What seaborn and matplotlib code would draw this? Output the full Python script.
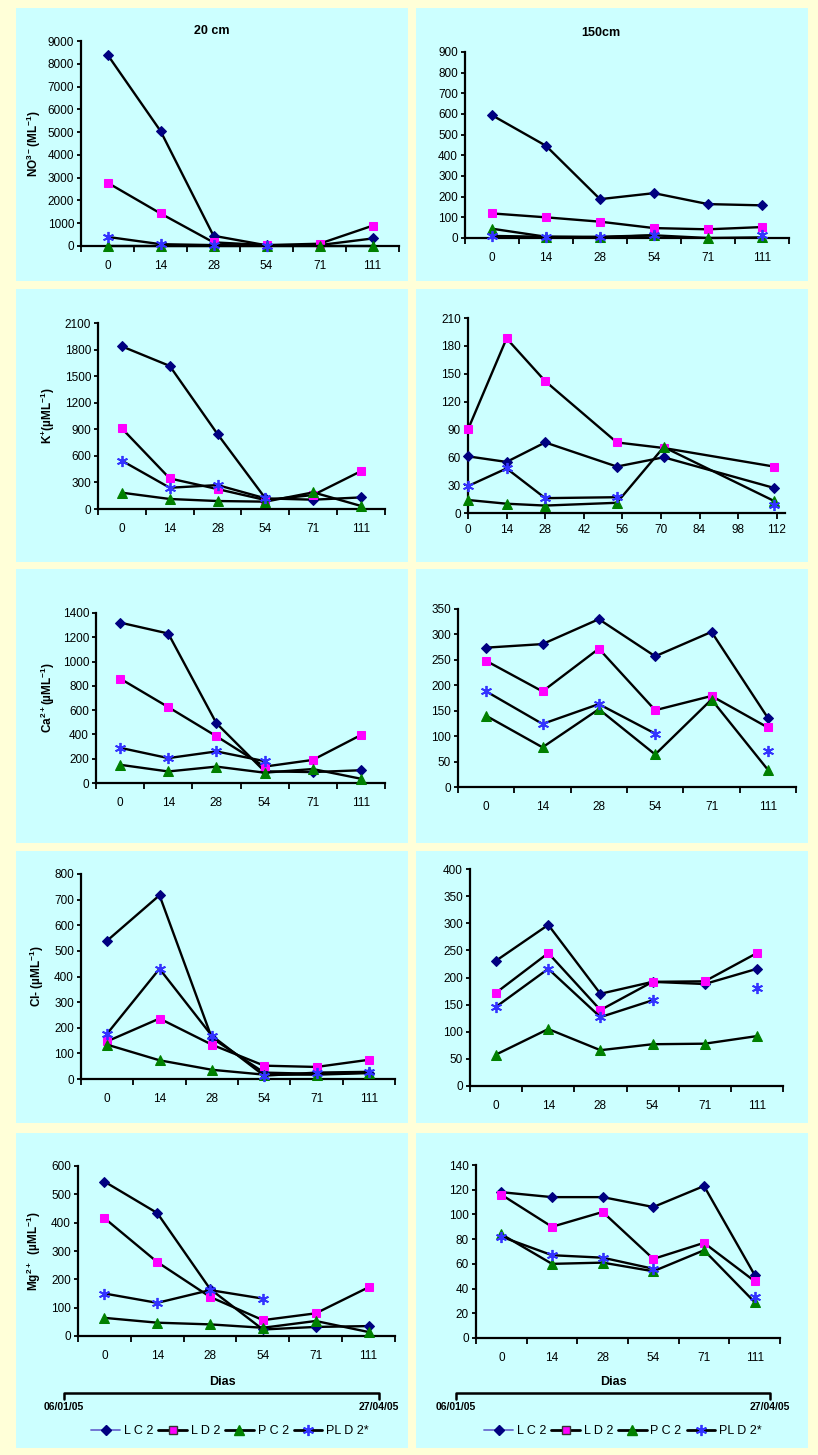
import numpy as np
import pandas as pd
import matplotlib
matplotlib.use('Agg')
import matplotlib.pyplot as plt
from matplotlib.patches import Rectangle
from matplotlib.lines import Line2D
import seaborn as sns

sns.set_theme(style='ticks')
plt.rcParams['font.family'] = ['Liberation Sans', 'DejaVu Sans']
plt.rcParams['mathtext.fontset'] = 'custom'
plt.rcParams['mathtext.rm'] = 'Liberation Sans:bold'
plt.rcParams['mathtext.default'] = 'rm'
for k in ['text.color', 'axes.labelcolor', 'xtick.color', 'ytick.color']:
    plt.rcParams[k] = 'black'

# sampling days
dias = [0, 14, 28, 54, 71, 111]
dia_labels = ['0', '14', '28', '54', '71', '111']
nan = np.nan

# NO3- (20 cm / 150 cm)
no3_20_lc2 = [8400, 5050, 450, 30, 40, 330]
no3_20_ld2 = [2780, 1430, 160, 40, 100, 890]
no3_20_pc2 = [10, 10, 10, 10, 10, 10]
no3_20_pld2 = [400, 80, 40, 20, nan, nan]
no3_150_lc2 = [594, 446, 188, 217, 164, 158]
no3_150_ld2 = [119, 100, 79, 48, 42, 53]
no3_150_pc2 = [45, 6, 6, 13, 0, 3]
no3_150_pld2 = [10, 6, 3, 13, nan, 13]

# K+
k_20_lc2 = [1836, 1615, 845, 120, 105, 131]
k_20_ld2 = [909, 345, 225, 101, 158, 428]
k_20_pc2 = [184, 113, 90, 83, 188, 34]
k_20_pld2 = [545, 240, 270, 120, nan, nan]
k_150_lc2 = [61, 55, 76, 50, 60, 27]
k_150_ld2 = [90, 188, 142, 76, 70, 50]
k_150_pc2 = [14, 10, 8, 11, 71, 13]
k_150_pld2 = [29, 48, 16, 17, nan, 9]

# Ca2+
ca_20_lc2 = [1321, 1231, 492, 96, 90, 105]
ca_20_ld2 = [860, 625, 385, 135, 190, 395]
ca_20_pc2 = [150, 95, 135, 85, 115, 35]
ca_20_pld2 = [290, 205, 260, 180, nan, nan]
ca_150_lc2 = [274, 281, 330, 257, 305, 136]
ca_150_ld2 = [248, 188, 272, 151, 179, 117]
ca_150_pc2 = [140, 78, 153, 64, 172, 34]
ca_150_pld2 = [188, 124, 163, 105, nan, 71]

# Cl-
cl_20_lc2 = [540, 717, 160, 25, 20, 25]
cl_20_ld2 = [147, 236, 134, 52, 47, 75]
cl_20_pc2 = [134, 73, 36, 17, 17, 23]
cl_20_pld2 = [177, 430, 169, 13, 25, 28]
cl_150_lc2 = [231, 297, 170, 192, 188, 216]
cl_150_ld2 = [172, 245, 140, 192, 193, 245]
cl_150_pc2 = [58, 105, 66, 77, 78, 92]
cl_150_pld2 = [146, 216, 127, 158, nan, 181]

# Mg2+
mg_20_lc2 = [545, 434, 166, 23, 32, 35]
mg_20_ld2 = [416, 261, 138, 56, 80, 172]
mg_20_pc2 = [64, 47, 41, 29, 53, 14]
mg_20_pld2 = [150, 117, 162, 132, nan, nan]
mg_150_lc2 = [118, 114, 114, 106, 123, 51]
mg_150_ld2 = [116, 90, 102, 64, 77, 46]
mg_150_pc2 = [84, 60, 61, 54, 71, 29]
mg_150_pld2 = [82, 67, 65, 56, nan, 33]

series_names = ['L C 2', 'L D 2', 'P C 2', 'PL D 2*']
styles = [
    dict(marker='D', markersize=5, markerfacecolor='#000080', markeredgecolor='#000080'),
    dict(marker='s', markersize=6, markerfacecolor='#FF00FF', markeredgecolor='#FF00FF'),
    dict(marker='^', markersize=7, markerfacecolor='#008000', markeredgecolor='#008000'),
    dict(marker=(6, 2, 0), markersize=8, markerfacecolor='#3333FF', markeredgecolor='#3333FF',
         markeredgewidth=1.3),
]
TICK_FS = 8.5

W, H = 818, 1455
fig = plt.figure(figsize=(W / 100, H / 100), dpi=100)
fig.patch.set_facecolor('#FFFFD8')

# cyan panels
for (x0, x1) in [(16, 408), (416, 808)]:
    for (y0, y1) in [(8, 281), (289, 562), (569, 843), (851, 1123), (1133, 1448)]:
        fig.patches.append(Rectangle((x0 / W, 1 - y1 / H), (x1 - x0) / W, (y1 - y0) / H,
                                     transform=fig.transFigure, facecolor='#CCFFFF',
                                     edgecolor='none', zorder=-5))


def make_ax(x0, ytop, x1, ybot):
    ax = fig.add_axes([x0 / W, 1 - ybot / H, (x1 - x0) / W, (ybot - ytop) / H])
    ax.set_facecolor('none')
    ax.patch.set_alpha(0)
    for s in ['top', 'right']:
        ax.spines[s].set_visible(False)
    for s in ['left', 'bottom']:
        ax.spines[s].set_linewidth(1.6)
        ax.spines[s].set_color('black')
    ax.tick_params(axis='y', direction='out', length=3, width=1.3, pad=2,
                   labelsize=TICK_FS, colors='black')
    return ax


def plot_series(ax, x, data):
    for vals, st in zip(data, styles):
        df = pd.DataFrame({'x': x, 'y': vals})
        ok = df['y'].notna()
        run_id = (~ok).cumsum()
        for _, run in df[ok].groupby(run_id[ok]):
            sns.lineplot(data=run, x='x', y='y', ax=ax, color='black', lw=1.7,
                         estimator=None, errorbar=None, sort=False, legend=False,
                         clip_on=False, zorder=3, **st)
    ax.set_xlabel('')
    ax.set_ylabel('')


def cat_axis(ax):
    ax.set_xlim(-0.5, 5.5)
    ax.set_xticks(np.arange(-0.5, 6.0, 1.0))
    ax.set_xticklabels([])
    ax.set_xticks(range(6), minor=True)
    ax.set_xticklabels(dia_labels, minor=True)
    ax.tick_params(axis='x', which='major', direction='out', length=4, width=1.3)
    ax.tick_params(axis='x', which='minor', length=0, pad=10, labelsize=TICK_FS)


def set_y(ax, top, step):
    ax.set_ylim(0, top)
    ax.set_yticks(np.arange(0, top + step / 2, step))


def ylab(ax, text, px, x0, x1):
    # px = right edge of the rotated label, in figure pixels
    ax.set_ylabel(text, fontsize=8.5, fontweight='bold')
    ax.yaxis.set_label_coords((px - x0) / (x1 - x0), 0.5)


cat_x = list(range(6))

# row 1 - NO3
ax = make_ax(81, 41, 399, 246)
plot_series(ax, cat_x, [no3_20_lc2, no3_20_ld2, no3_20_pc2, no3_20_pld2])
cat_axis(ax); set_y(ax, 9000, 1000)
ylab(ax, r'NO$^{3-}$(ML$^{-1}$)', 43, 81, 399)

ax = make_ax(465, 52, 789, 238)
plot_series(ax, cat_x, [no3_150_lc2, no3_150_ld2, no3_150_pc2, no3_150_pld2])
cat_axis(ax); set_y(ax, 900, 100)

fig.text(212 / W, 1 - 31 / H, '20 cm', ha='center', va='center', fontsize=9, fontweight='bold')
fig.text(601 / W, 1 - 33 / H, '150cm', ha='center', va='center', fontsize=9, fontweight='bold')

# row 2 - K
ax = make_ax(98, 323, 385, 509)
plot_series(ax, cat_x, [k_20_lc2, k_20_ld2, k_20_pc2, k_20_pld2])
cat_axis(ax); set_y(ax, 2100, 300)
ylab(ax, r'K$^{+}$(µML$^{-1}$)', 57, 98, 385)

ax = make_ax(468, 318, 785, 513)
plot_series(ax, dias, [k_150_lc2, k_150_ld2, k_150_pc2, k_150_pld2])
ax.set_xlim(0, 115)
ax.set_xticks(np.arange(0, 113, 14))
ax.tick_params(axis='x', direction='out', length=4, width=1.3, pad=4, labelsize=TICK_FS)
set_y(ax, 210, 30)

# row 3 - Ca
ax = make_ax(96, 613, 385, 783)
plot_series(ax, cat_x, [ca_20_lc2, ca_20_ld2, ca_20_pc2, ca_20_pld2])
cat_axis(ax); set_y(ax, 1400, 200)
ylab(ax, r'Ca$^{2+}$(µML$^{-1}$)', 57, 96, 385)

ax = make_ax(458, 609, 796, 787)
plot_series(ax, cat_x, [ca_150_lc2, ca_150_ld2, ca_150_pc2, ca_150_pld2])
cat_axis(ax); set_y(ax, 350, 50)

# row 4 - Cl
ax = make_ax(81, 874, 395, 1079)
plot_series(ax, cat_x, [cl_20_lc2, cl_20_ld2, cl_20_pc2, cl_20_pld2])
cat_axis(ax); set_y(ax, 800, 100)
ylab(ax, r'Cl- (µML$^{-1}$)', 46, 81, 395)

ax = make_ax(470, 869, 783, 1086)
plot_series(ax, cat_x, [cl_150_lc2, cl_150_ld2, cl_150_pc2, cl_150_pld2])
cat_axis(ax); set_y(ax, 400, 50)

# row 5 - Mg
ax = make_ax(78, 1166, 395, 1336)
plot_series(ax, cat_x, [mg_20_lc2, mg_20_ld2, mg_20_pc2, mg_20_pld2])
cat_axis(ax); set_y(ax, 600, 100)
ylab(ax, r'Mg$^{2+}$  (µML$^{-1}$)', 43, 78, 395)

ax = make_ax(476, 1165, 780, 1338)
plot_series(ax, cat_x, [mg_150_lc2, mg_150_ld2, mg_150_pc2, mg_150_pld2])
cat_axis(ax); set_y(ax, 140, 20)

# "Dias" with date bracket and legend under each bottom chart
legend_handles = [
    Line2D([], [], color='#6b6bd0', lw=1.3, **styles[0]),
    Line2D([], [], color='black', lw=2, **dict(styles[1], markeredgecolor='#333333')),
    Line2D([], [], color='black', lw=2, **styles[2]),
    Line2D([], [], color='black', lw=2, **styles[3]),
]
for dias_x, bx0, bx1, leg_x in [(222, 64, 379, 230), (613, 456, 770, 623)]:
    fig.text(dias_x / W, 1 - 1382 / H, 'Dias', ha='center', va='center',
             fontsize=9, fontweight='bold')
    fig.add_artist(Line2D([bx0 / W, bx0 / W, bx1 / W, bx1 / W],
                          [1 - 1399 / H, 1 - 1393 / H, 1 - 1393 / H, 1 - 1399 / H],
                          transform=fig.transFigure, color='black', lw=1.8))
    fig.text(bx0 / W, 1 - 1407 / H, '06/01/05', ha='center', va='center',
             fontsize=7.5, fontweight='bold')
    fig.text(bx1 / W, 1 - 1407 / H, '27/04/05', ha='center', va='center',
             fontsize=7.5, fontweight='bold')
    fig.legend(legend_handles, series_names, loc='center',
               bbox_to_anchor=(leg_x / W, 1 - 1431 / H), ncol=4, frameon=False,
               fontsize=9, handlelength=2.3, handletextpad=0.3, columnspacing=0.4,
               borderaxespad=0, borderpad=0)

fig.savefig('out.png', dpi=100, facecolor=fig.get_facecolor())
